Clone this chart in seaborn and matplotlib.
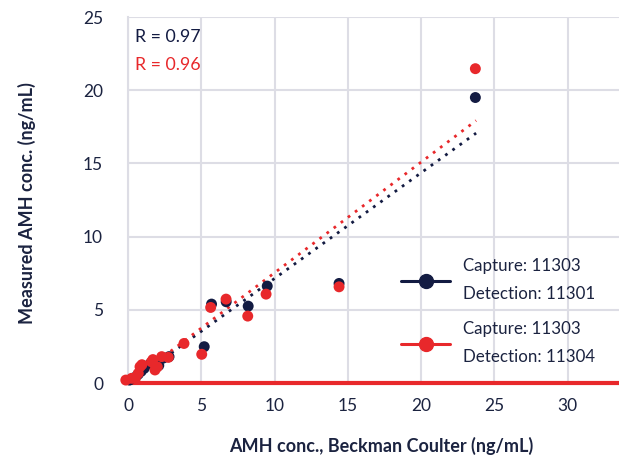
import numpy as np
import pandas as pd
import matplotlib
matplotlib.use("Agg")
import matplotlib.pyplot as plt
import seaborn as sns
from matplotlib.lines import Line2D

# ---- data ----
navy_x = [0.1, 0.3, 0.5, 0.7, 0.9, 1.1, 1.5, 1.8, 2.1, 2.4, 2.8, 5.2, 5.7, 6.7, 8.2, 9.5, 14.4, 23.7]
navy_y = [0.2, 0.3, 0.4, 0.6, 0.8, 1.0, 1.3, 1.5, 1.2, 1.7, 1.8, 2.48, 5.39, 5.55, 5.25, 6.62, 6.8, 19.5]
red_x = [-0.15, 0.25, 0.5, 0.7, 0.82, 0.95, 1.6, 1.7, 1.84, 2.0, 2.3, 2.75, 3.82, 5.03, 5.64, 6.69, 8.17, 9.42, 14.4, 23.7]
red_y = [0.2, 0.32, 0.3, 0.66, 1.11, 1.25, 1.45, 1.6, 0.89, 1.1, 1.8, 1.75, 2.7, 1.96, 5.16, 5.73, 4.57, 6.07, 6.57, 21.47]

series_names = ["Capture: 11303\nDetection: 11301", "Capture: 11303\nDetection: 11304"]
r_labels = ["R = 0.97", "R = 0.96"]
fit_slope = [0.722, 0.756]
fit_intercept = [-0.08, -0.03]
fit_range = [0.0, 23.75]

xticks = [0, 5, 10, 15, 20, 25, 30]
yticks = [0, 5, 10, 15, 20, 25]

NAVY = "#131b42"
RED = "#e8282b"
TEXT = "#1b2340"
GRID = "#dddde5"

sns.set_style("white")
plt.rcParams["font.family"] = ["Lato", "DejaVu Sans"]

df = pd.DataFrame({
    "x": navy_x + red_x,
    "y": navy_y + red_y,
    "series": [series_names[0]] * len(navy_x) + [series_names[1]] * len(red_x),
})

fig = plt.figure(figsize=(6.19, 4.57), dpi=100)
ax = fig.add_axes([128 / 619, 1 - 383 / 457, 1 - 128 / 619, (383 - 17) / 457])

ax.set_xlim(0, 33.5)
ax.set_ylim(0, 25)
ax.set_xticks(xticks)
ax.set_yticks(yticks)
ax.grid(True, color=GRID, linewidth=1.5)
ax.set_axisbelow(True)
for s in ["top", "right", "bottom"]:
    ax.spines[s].set_visible(False)
ax.spines["left"].set_color(GRID)
ax.spines["left"].set_linewidth(1.5)

# fit lines
xf = np.array(fit_range)
for slope, icpt, col in zip(fit_slope, fit_intercept, [NAVY, RED]):
    sns.lineplot(x=xf, y=slope * xf + icpt, ax=ax, color=col, linestyle=(0, (1, 2.2)),
                 linewidth=2.0, zorder=2, legend=False)

ax.axhline(0, color=RED, linewidth=3, zorder=3, clip_on=False)

sns.scatterplot(data=df, x="x", y="y", hue="series", palette=[NAVY, RED], s=62,
                edgecolor="none", ax=ax, legend=False, zorder=4, clip_on=False)

ax.tick_params(axis="x", length=0, pad=11, labelsize=12.5, labelcolor=TEXT)
ax.tick_params(axis="y", length=0, pad=18, labelsize=12.5, labelcolor=TEXT)

ax.set_xlabel("AMH conc., Beckman Coulter (ng/mL)", fontsize=13, fontweight="bold",
              color=TEXT)
ax.set_ylabel("Measured AMH conc. (ng/mL)", fontsize=13, fontweight="bold",
              color=TEXT)
ax.xaxis.set_label_coords((381 - 128) / 490, -(437 - 383) / 366)
ax.yaxis.set_label_coords(-(128 - 36) / 490, (383 - 203) / 366)

ax.text(0.5, 23.6, r_labels[0], color=NAVY, fontsize=12.8, va="center", ha="left")
ax.text(0.5, 21.75, r_labels[1], color=RED, fontsize=12.8, va="center", ha="left")

handles = [Line2D([0], [0], color=c, marker="o", markersize=10, linewidth=2.2)
           for c in [NAVY, RED]]
leg = ax.legend(handles, series_names, loc="upper left",
                bbox_to_anchor=(266 / 490, 1 - (251 - 17) / 366),
                frameon=False, fontsize=12.2, handlelength=2.9, handletextpad=0.75,
                labelspacing=1.12, borderaxespad=0)
for t in leg.get_texts():
    t.set_color(TEXT)
    t.set_linespacing(1.95)

fig.savefig("out.png", dpi=100)
